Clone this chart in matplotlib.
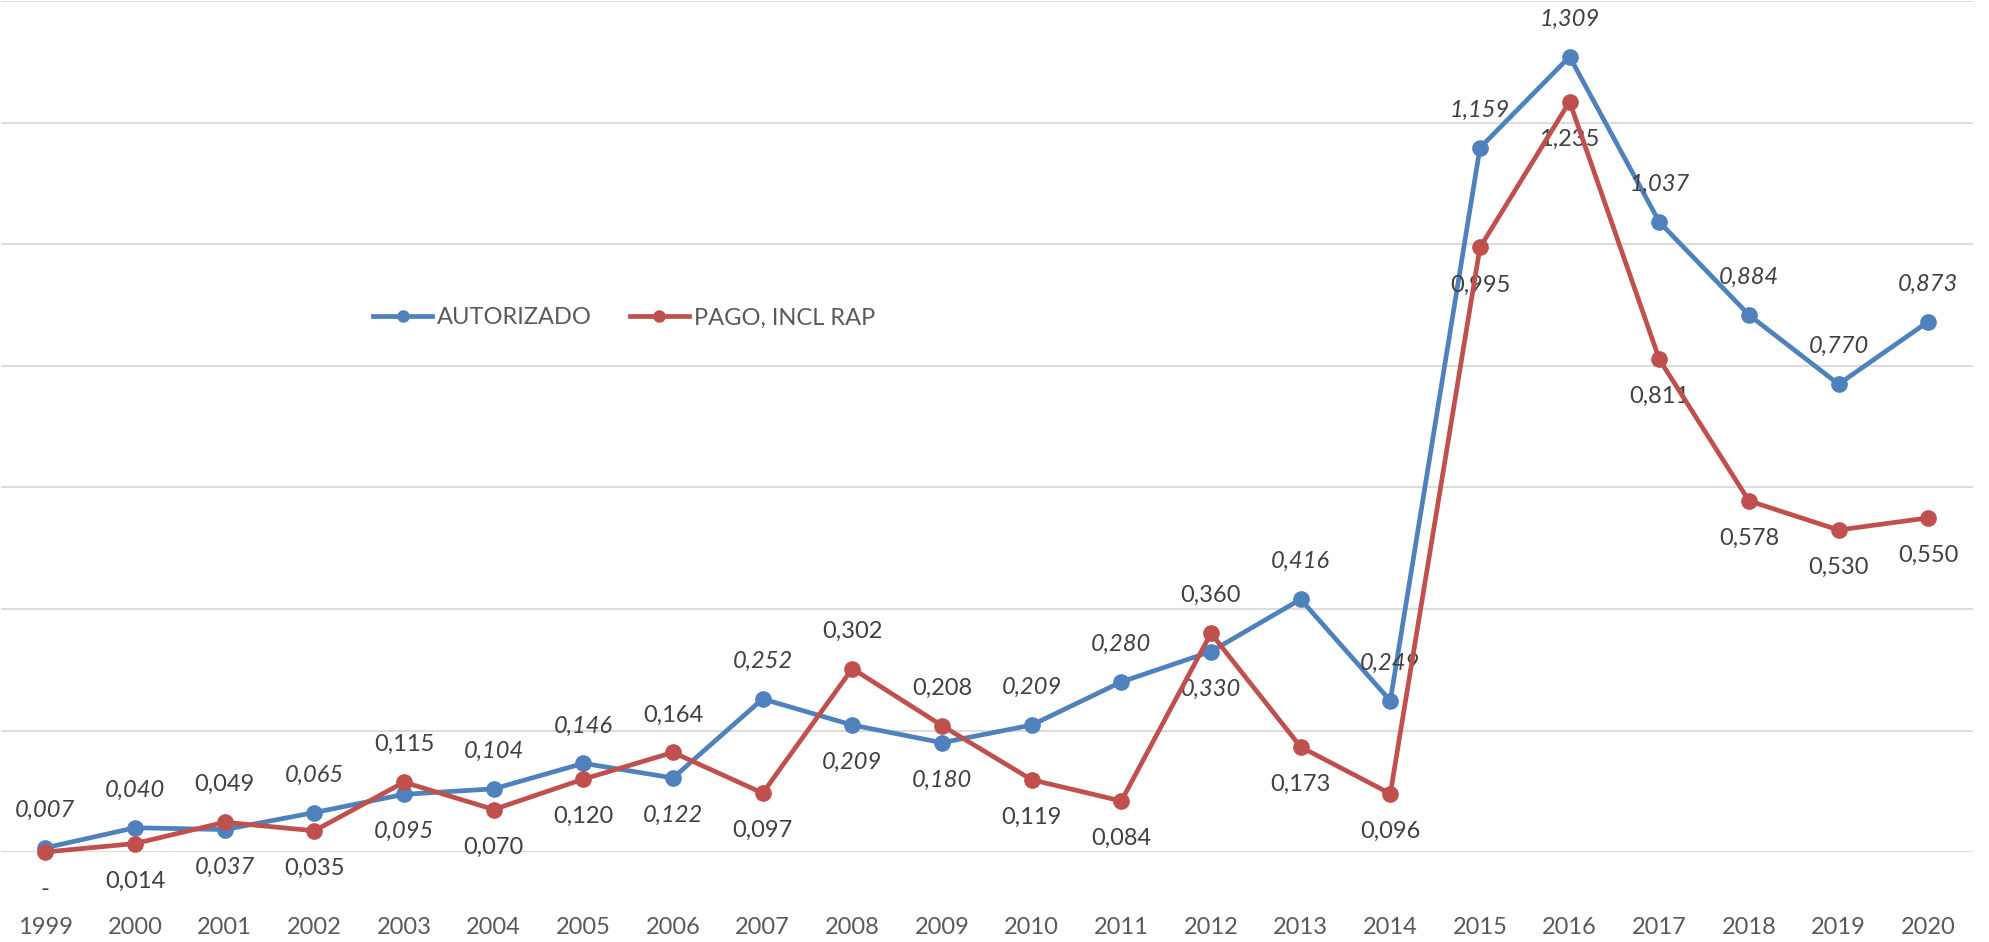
import matplotlib
matplotlib.use("Agg")
import matplotlib.pyplot as plt

years = [str(y) for y in range(1999, 2021)]
autorizado = [0.007, 0.040, 0.037, 0.065, 0.095, 0.104, 0.146, 0.122, 0.252, 0.209, 0.180,
              0.209, 0.280, 0.330, 0.416, 0.249, 1.159, 1.309, 1.037, 0.884, 0.770, 0.873]
pago = [0.0, 0.014, 0.049, 0.035, 0.115, 0.070, 0.120, 0.164, 0.097, 0.302, 0.208,
        0.119, 0.084, 0.360, 0.173, 0.096, 0.995, 1.235, 0.811, 0.578, 0.530, 0.550]

BLUE = "#4F81BD"
RED = "#C0504D"
plt.rcParams['font.family'] = ['Lato', 'DejaVu Sans']


def fmt(v):
    if v == 0:
        return "-"
    return f"{v:.3f}".replace(".", ",")


fig = plt.figure(figsize=(19.9, 9.42), dpi=100)
ax = fig.add_axes([0.0003, 0.0955, 0.9912, 0.903])

x = list(range(len(years)))
ax.plot(x, autorizado, color=BLUE, lw=3.4, marker='o', ms=11, label="AUTORIZADO",
        solid_joinstyle='round', zorder=3, clip_on=False)
ax.plot(x, pago, color=RED, lw=3.4, marker='o', ms=11, label="PAGO, INCL RAP",
        solid_joinstyle='round', zorder=4, clip_on=False)

ax.set_xlim(-0.5, len(years) - 0.5)
ax.set_ylim(0, 1.4)
ax.set_yticks([0.2 * i for i in range(8)])
ax.yaxis.grid(True, color="#D9D9D9", lw=1.3)
ax.set_axisbelow(True)
ax.tick_params(axis='y', left=False, labelleft=False)
ax.set_xticks(x)
ax.set_xticklabels(years, fontsize=17, color="#595959")
ax.tick_params(axis='x', length=0, pad=47)
for s in ax.spines.values():
    s.set_visible(False)

# data labels: the higher series gets its label above the point
for i in x:
    a, p = autorizado[i], pago[i]
    da = 27 if a >= p else -27
    ax.annotate(fmt(a), (i, a), xytext=(0, da), textcoords='offset points',
                ha='center', va='center', fontsize=17, style='italic', color="#404040")
    ax.annotate(fmt(p), (i, p), xytext=(0, -da), textcoords='offset points',
                ha='center', va='center', fontsize=17, color="#404040")

leg = ax.legend(loc='center left', bbox_to_anchor=(0.189, 0.628), ncol=2, frameon=False,
                fontsize=17, handlelength=2.5, handletextpad=0.2, columnspacing=1.6,
                borderpad=0, borderaxespad=0)
for h in leg.legend_handles:
    h.set_markersize(8)
for t in leg.get_texts():
    t.set_color("#595959")

fig.savefig("out.png", dpi=100)
